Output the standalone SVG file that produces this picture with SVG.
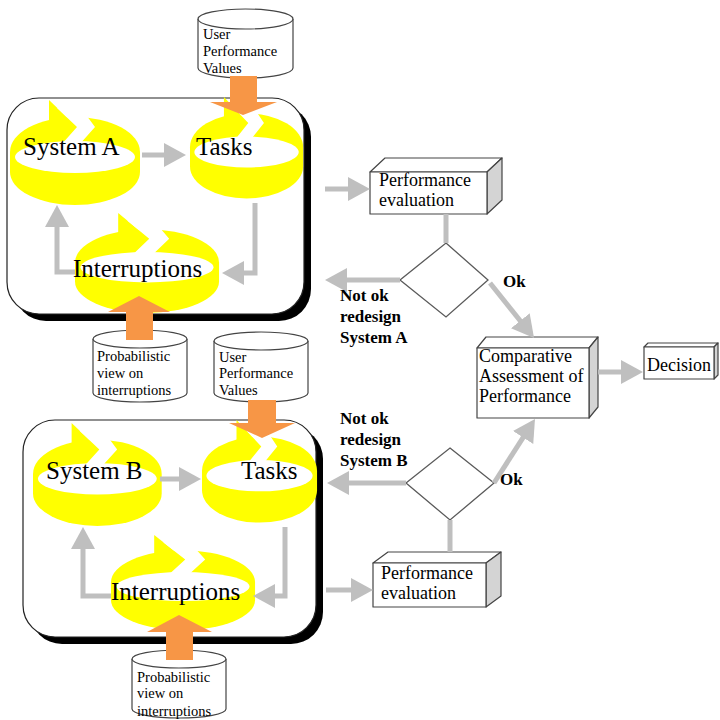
<svg xmlns="http://www.w3.org/2000/svg" xmlns:xlink="http://www.w3.org/1999/xlink" width="720" height="720" viewBox="0 0 720 720">
  <style>
    .lbl { font-family: "Liberation Serif", "Times New Roman", serif; fill: #000; }
    .big { font-size: 25px; }
    .db { font-size: 14.5px; }
    .box { font-size: 18px; }
    .note { font-size: 17px; font-weight: bold; }
    .frame { fill: #fff; stroke: #222; stroke-width: 1.2; }
    .shadow { fill: #000; }
    .cyl { fill: #fff; stroke: #444; stroke-width: 1.2; }
    .face { fill: #fff; stroke: #444; stroke-width: 1.2; stroke-linejoin: round; }
    .side { fill: #d4d4d4; stroke: #444; stroke-width: 1.2; stroke-linejoin: round; }
    .dia { fill: #fff; stroke: #5a5a5a; stroke-width: 1.3; }
    .conn { fill: none; stroke: #bfbfbf; stroke-width: 5; }
    .feed { fill: #f79646; }
  </style>
  <defs>
    <marker id="ah" viewBox="0 0 22 24" refX="12" refY="12" markerWidth="22" markerHeight="24" markerUnits="userSpaceOnUse" orient="auto">
      <path d="M0,0 L22,12 L0,24 Z" fill="#bfbfbf"/>
    </marker>
    <!-- yellow 3D cycle arrow, drawn in a 130 x 105 box -->
    <g id="cycle">
      <path fill="#ffff00" d="M0,52 A65,35 0 0 1 130,52 L130,72 A65,33 0 0 1 0,72 Z"/>
      <polygon fill="#ffff00" points="39,0 67,27 51,45 39,45"/>
      <ellipse cx="65" cy="57" rx="60" ry="16" fill="#fff"/>
      <polygon fill="#fff" points="47,8 67,27 51,45 69,45 85,27 71,8"/>
    </g>
  </defs>

  <rect width="720" height="720" fill="#fff"/>

  <!-- process frames -->
  <g id="frameA">
    <rect class="shadow" x="14" y="105" width="297" height="216" rx="32"/>
    <rect class="frame" x="7" y="98" width="297" height="216" rx="32"/>
  </g>
  <g id="frameB">
    <rect class="shadow" x="30" y="427" width="293" height="217" rx="32"/>
    <rect class="frame" x="23" y="420" width="293" height="217" rx="32"/>
  </g>

  <!-- data stores -->
  <g id="userValuesA">
    <path class="cyl" d="M198,19 V68 A47.5,10 0 0 0 293,68 V19"/>
    <ellipse class="cyl" cx="245.5" cy="19" rx="47.5" ry="10"/>
    <text class="lbl db" x="203" y="39">User</text>
    <text class="lbl db" x="203" y="56">Performance</text>
    <text class="lbl db" x="203" y="73">Values</text>
  </g>
  <g id="probViewA">
    <path class="cyl" d="M93,339 V393 A47,9 0 0 0 187,393 V339"/>
    <ellipse class="cyl" cx="140" cy="339" rx="47" ry="9"/>
    <text class="lbl db" x="97" y="361">Probabilistic</text>
    <text class="lbl db" x="97" y="378">view on</text>
    <text class="lbl db" x="97" y="395">interruptions</text>
  </g>
  <g id="userValuesB">
    <path class="cyl" d="M214,341 V393 A47,9 0 0 0 308,393 V341"/>
    <ellipse class="cyl" cx="261" cy="341" rx="47" ry="9"/>
    <text class="lbl db" x="219" y="362">User</text>
    <text class="lbl db" x="219" y="378">Performance</text>
    <text class="lbl db" x="219" y="395">Values</text>
  </g>
  <g id="probViewB">
    <path class="cyl" d="M132,659 V709 A47,9 0 0 0 226,709 V659"/>
    <ellipse class="cyl" cx="179" cy="659" rx="47" ry="9"/>
    <text class="lbl db" x="137" y="682">Probabilistic</text>
    <text class="lbl db" x="137" y="698">view on</text>
    <text class="lbl db" x="137" y="716">interruptions</text>
  </g>

  <!-- cycle nodes -->
  <g id="systemA">
    <use xlink:href="#cycle" transform="translate(10,100) scale(1,1)"/>
    <text class="lbl big" x="23" y="155">System A</text>
  </g>
  <g id="tasksA">
    <use xlink:href="#cycle" transform="translate(190,97) scale(0.87,0.966)"/>
    <text class="lbl big" x="196" y="155">Tasks</text>
  </g>
  <g id="interruptionsA">
    <use xlink:href="#cycle" transform="translate(75,213) scale(1.108,0.952)"/>
    <text class="lbl big" x="73" y="277">Interruptions</text>
  </g>
  <g id="systemB">
    <use xlink:href="#cycle" transform="translate(33,423) scale(0.99,0.98)"/>
    <text class="lbl big" x="46" y="479">System B</text>
  </g>
  <g id="tasksB">
    <use xlink:href="#cycle" transform="translate(202,420) scale(0.885,0.977)"/>
    <text class="lbl big" x="241" y="479">Tasks</text>
  </g>
  <g id="interruptionsB">
    <use xlink:href="#cycle" transform="translate(111,535) scale(1.108,0.905)"/>
    <text class="lbl big" x="111" y="600">Interruptions</text>
  </g>

  <!-- evaluation and decision nodes -->
  <g id="perfEvalA">
    <polygon class="face" points="370,172 385,158 502,158 487,172"/>
    <polygon class="side" points="487,172 502,158 502,200 487,214"/>
    <rect class="face" x="370" y="172" width="117" height="42"/>
    <text class="lbl box" x="379" y="186">Performance</text>
    <text class="lbl box" x="379" y="206">evaluation</text>
  </g>
  <g id="decisionA">
    <polygon class="dia" points="446,243 488,280 446,317 400,280"/>
  </g>
  <g id="perfEvalB">
    <polygon class="face" points="373,563 388,552 501,552 486,563"/>
    <polygon class="side" points="486,563 501,552 501,596 486,607"/>
    <rect class="face" x="373" y="563" width="113" height="44"/>
    <text class="lbl box" x="381" y="579">Performance</text>
    <text class="lbl box" x="381" y="599">evaluation</text>
  </g>
  <g id="decisionB">
    <polygon class="dia" points="450,448 494,483 450,520 406,483"/>
  </g>
  <g id="comparative">
    <polygon class="face" points="477,348 486,337 598,337 589,348"/>
    <polygon class="side" points="589,348 598,337 598,407 589,418"/>
    <rect class="face" x="477" y="348" width="112" height="70"/>
    <text class="lbl box" x="479" y="362">Comparative</text>
    <text class="lbl box" x="479" y="382">Assessment of</text>
    <text class="lbl box" x="479" y="402">Performance</text>
  </g>
  <g id="decision">
    <polygon class="face" points="644,347 648,343 718,343 714,347"/>
    <polygon class="side" points="714,347 718,343 718,375 714,379"/>
    <rect class="face" x="644" y="347" width="70" height="32"/>
    <text class="lbl box" x="647" y="371">Decision</text>
  </g>

  <!-- connectors -->
  <g id="connectors">
    <path class="conn" d="M142,155 H176" marker-end="url(#ah)"/>
    <path class="conn" d="M255,203 V273 H232" marker-end="url(#ah)"/>
    <path class="conn" d="M75,272 H57 V215" marker-end="url(#ah)"/>
    <path class="conn" d="M325,189 H360" marker-end="url(#ah)"/>
    <path class="conn" d="M446,214 V243"/>
    <path class="conn" d="M400,280 H335" marker-end="url(#ah)"/>
    <path class="conn" d="M490,283 L527.8,330.2" marker-end="url(#ah)"/>
    <path class="conn" d="M598,372 H633" marker-end="url(#ah)"/>
    <path class="conn" d="M160,479 H191" marker-end="url(#ah)"/>
    <path class="conn" d="M285,527 V596 H263" marker-end="url(#ah)"/>
    <path class="conn" d="M111,596 H83 V537" marker-end="url(#ah)"/>
    <path class="conn" d="M326,590 H363" marker-end="url(#ah)"/>
    <path class="conn" d="M450,520 V552"/>
    <path class="conn" d="M406,483 H337" marker-end="url(#ah)"/>
    <path class="conn" d="M494,483 L529.6,427.4" marker-end="url(#ah)"/>

    <!-- orange input feeds -->
    <polygon class="feed" points="230,76 257,76 257,102 277,102 243,115 210,102 230,102"/>
    <polygon class="feed" points="126,340 153,340 153,312 170,312 139,296 108,312 126,312"/>
    <polygon class="feed" points="248,400 276,400 276,423 295,423 262,438 229,423 248,423"/>
    <polygon class="feed" points="166,660 193,660 193,632 212,632 179,615 147,632 166,632"/>
  </g>

  <!-- branch labels -->
  <g id="labels">
    <text class="lbl note" x="503" y="287">Ok</text>
    <text class="lbl note" x="340" y="301">Not ok</text>
    <text class="lbl note" x="340" y="322">redesign</text>
    <text class="lbl note" x="340" y="343">System A</text>
    <text class="lbl note" x="340" y="424">Not ok</text>
    <text class="lbl note" x="340" y="445">redesign</text>
    <text class="lbl note" x="340" y="466">System B</text>
    <text class="lbl note" x="500" y="485">Ok</text>
  </g>
</svg>
